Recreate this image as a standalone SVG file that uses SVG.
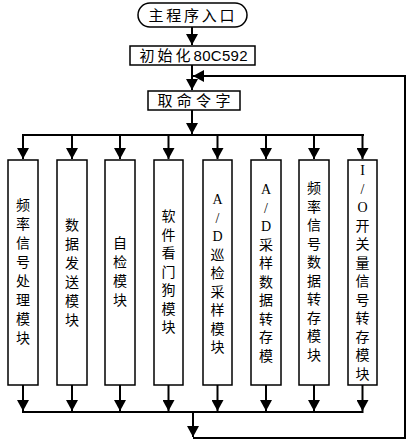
<svg xmlns="http://www.w3.org/2000/svg" width="411" height="442" viewBox="0 0 411 442">
<style>
.bx{fill:#fff;stroke:#000;stroke-width:1.5}
.ln{fill:none;stroke:#000;stroke-width:2}
.t{font-family:"Noto Sans CJK SC","Noto Sans CJK JP",sans-serif;font-size:15px;fill:#000}
.v{font-family:"Noto Sans CJK SC","Noto Sans CJK JP",sans-serif;font-size:14px;fill:#000;text-anchor:middle}
.l{font-family:"Liberation Serif",serif;font-size:14px}
.d{font-family:"Liberation Sans",sans-serif;letter-spacing:0.3px}
</style>
<defs>
<marker id="ah" markerUnits="userSpaceOnUse" markerWidth="12" markerHeight="12" refX="11" refY="6" orient="auto">
<path d="M0,0 L11,6 L0,12 Z" fill="#000"/>
</marker>
</defs>
<rect width="411" height="442" fill="#fff"/>
<g id="connectors">
<path class="ln" d="M192,27 V45" marker-end="url(#ah)"/>
<path class="ln" d="M192,65 V90" marker-end="url(#ah)"/>
<path class="ln" d="M405,76 H193" marker-end="url(#ah)"/>
<path class="ln" d="M192,110 V134" marker-end="url(#ah)"/>
<path class="ln" d="M22,135 H364"/>
<path class="ln" d="M23,135 V159" marker-end="url(#ah)"/>
<path class="ln" d="M72,135 V159" marker-end="url(#ah)"/>
<path class="ln" d="M120,135 V159" marker-end="url(#ah)"/>
<path class="ln" d="M168.5,135 V159" marker-end="url(#ah)"/>
<path class="ln" d="M217.5,135 V159" marker-end="url(#ah)"/>
<path class="ln" d="M266,135 V159" marker-end="url(#ah)"/>
<path class="ln" d="M314,135 V159" marker-end="url(#ah)"/>
<path class="ln" d="M362.5,135 V159" marker-end="url(#ah)"/>
<path class="ln" d="M23,385 V411" marker-end="url(#ah)"/>
<path class="ln" d="M72,385 V411" marker-end="url(#ah)"/>
<path class="ln" d="M120,385 V411" marker-end="url(#ah)"/>
<path class="ln" d="M168.5,385 V411" marker-end="url(#ah)"/>
<path class="ln" d="M217.5,385 V411" marker-end="url(#ah)"/>
<path class="ln" d="M266,385 V411" marker-end="url(#ah)"/>
<path class="ln" d="M314,385 V411" marker-end="url(#ah)"/>
<path class="ln" d="M362.5,385 V411" marker-end="url(#ah)"/>
<path class="ln" d="M22,412 H363.5"/>
<path class="ln" d="M193,412 V437" marker-end="url(#ah)"/>
<path class="ln" d="M193,438 H405 V75"/>
</g>
<g id="start">
<rect class="bx" x="138" y="3" width="109" height="24" rx="12" ry="12"/>
<text class="t" x="148.5" y="20.5" letter-spacing="2.75">主程序入口</text>
</g>
<g id="init">
<rect class="bx" x="130" y="46" width="125" height="19"/>
<text class="t" x="139.5" y="60.5"><tspan letter-spacing="3">初始化</tspan><tspan class="d">80C592</tspan></text>
</g>
<g id="fetch">
<rect class="bx" x="148" y="91" width="92" height="19"/>
<text class="t" x="157.5" y="105.5" letter-spacing="4.3">取命令字</text>
</g>
<g id="m1">
<rect class="bx" x="8" y="160" width="30" height="225"/>
<text class="v"><tspan x="23" y="210">频</tspan><tspan x="23" y="229">率</tspan><tspan x="23" y="248">信</tspan><tspan x="23" y="267">号</tspan><tspan x="23" y="286">处</tspan><tspan x="23" y="305">理</tspan><tspan x="23" y="324">模</tspan><tspan x="23" y="343">块</tspan></text>
</g>
<g id="m2">
<rect class="bx" x="57" y="160" width="30" height="225"/>
<text class="v"><tspan x="72" y="230">数</tspan><tspan x="72" y="249">据</tspan><tspan x="72" y="268">发</tspan><tspan x="72" y="287">送</tspan><tspan x="72" y="306">模</tspan><tspan x="72" y="325">块</tspan></text>
</g>
<g id="m3">
<rect class="bx" x="105" y="160" width="30" height="225"/>
<text class="v"><tspan x="120" y="248">自</tspan><tspan x="120" y="267">检</tspan><tspan x="120" y="286">模</tspan><tspan x="120" y="305">块</tspan></text>
</g>
<g id="m4">
<rect class="bx" x="154" y="160" width="29" height="225"/>
<text class="v"><tspan x="168.5" y="221">软</tspan><tspan x="168.5" y="239.5">件</tspan><tspan x="168.5" y="258">看</tspan><tspan x="168.5" y="276.5">门</tspan><tspan x="168.5" y="295">狗</tspan><tspan x="168.5" y="313.5">模</tspan><tspan x="168.5" y="332">块</tspan></text>
</g>
<g id="m5">
<rect class="bx" x="203" y="160" width="29" height="225"/>
<text class="v"><tspan class="l" x="217.5" y="204">A</tspan><tspan class="l" x="217.5" y="222.5">/</tspan><tspan class="l" x="217.5" y="241">D</tspan><tspan x="217.5" y="259.5">巡</tspan><tspan x="217.5" y="278">检</tspan><tspan x="217.5" y="296.5">采</tspan><tspan x="217.5" y="315">样</tspan><tspan x="217.5" y="333.5">模</tspan><tspan x="217.5" y="352">块</tspan></text>
</g>
<g id="m6">
<rect class="bx" x="251" y="160" width="30" height="225"/>
<text class="v"><tspan class="l" x="266" y="194">A</tspan><tspan class="l" x="266" y="212.5">/</tspan><tspan class="l" x="266" y="231">D</tspan><tspan x="266" y="249.5">采</tspan><tspan x="266" y="268">样</tspan><tspan x="266" y="286.5">数</tspan><tspan x="266" y="305">据</tspan><tspan x="266" y="323.5">转</tspan><tspan x="266" y="342">存</tspan><tspan x="266" y="360.5">模</tspan></text>
</g>
<g id="m7">
<rect class="bx" x="299" y="160" width="30" height="225"/>
<text class="v"><tspan x="314" y="193">频</tspan><tspan x="314" y="211.5">率</tspan><tspan x="314" y="230">信</tspan><tspan x="314" y="248.5">号</tspan><tspan x="314" y="267">数</tspan><tspan x="314" y="285.5">据</tspan><tspan x="314" y="304">转</tspan><tspan x="314" y="322.5">存</tspan><tspan x="314" y="341">模</tspan><tspan x="314" y="359.5">块</tspan></text>
</g>
<g id="m8">
<rect class="bx" x="348" y="160" width="29" height="225"/>
<text class="v"><tspan class="l" x="362.5" y="175">I</tspan><tspan class="l" x="362.5" y="193.5">/</tspan><tspan class="l" x="362.5" y="212">O</tspan><tspan x="362.5" y="230.5">开</tspan><tspan x="362.5" y="249">关</tspan><tspan x="362.5" y="267.5">量</tspan><tspan x="362.5" y="286">信</tspan><tspan x="362.5" y="304.5">号</tspan><tspan x="362.5" y="323">转</tspan><tspan x="362.5" y="341.5">存</tspan><tspan x="362.5" y="360">模</tspan><tspan x="362.5" y="378.5">块</tspan></text>
</g>
</svg>
